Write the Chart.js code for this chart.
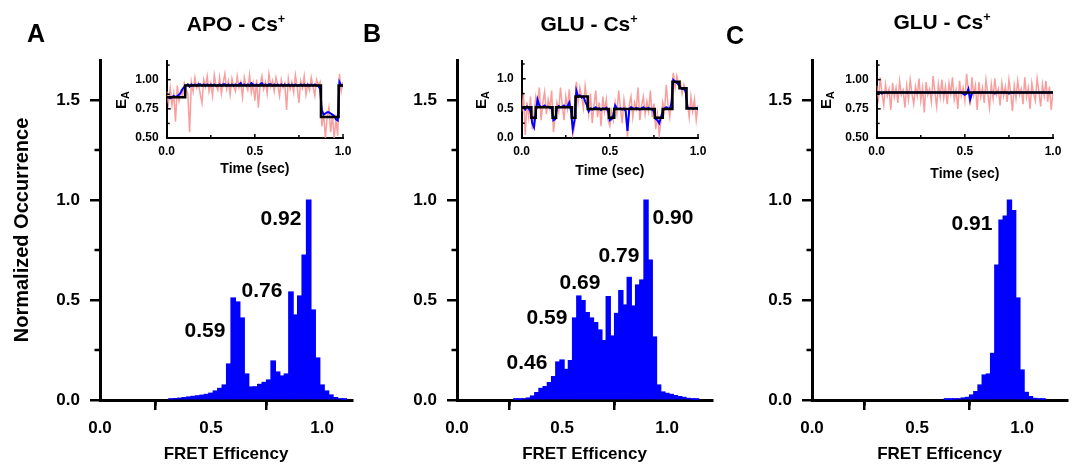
<!DOCTYPE html>
<html>
<head>
<meta charset="utf-8">
<script src="https://cdn.jsdelivr.net/npm/chart.js@4.4.1/dist/chart.umd.min.js"></script>
<style>
body { margin: 0; background: #fff; }
#fig { position: relative; width: 1072px; height: 466px; overflow: hidden;
       font-family: "Liberation Sans", Arial, sans-serif; font-weight: bold; color: #000; }
#fig canvas { position: absolute; }
.lbl { position: absolute; transform: translate(-50%, -50%); line-height: 1; white-space: nowrap; }
.panel { font-size: 25px; }
.title { font-size: 21px; }
.title sup { font-size: 0.6em; vertical-align: 0.6em; line-height: 0; }
.peak { font-size: 21px; }
.ea { font-size: 15px; transform: translate(-50%, -50%) rotate(-90deg); }
.ea span { font-size: 0.72em; vertical-align: -0.3em; line-height: 0; }
</style>
</head>
<body>
<div id="fig">
  <canvas id="histA" width="360" height="466" style="left:0px;top:0px"></canvas>
  <canvas id="histB" width="360" height="466" style="left:360px;top:0px"></canvas>
  <canvas id="histC" width="357" height="466" style="left:715px;top:0px"></canvas>
  <canvas id="traceA" width="275" height="145" style="left:100px;top:40px"></canvas>
  <canvas id="traceB" width="275" height="145" style="left:455px;top:40px"></canvas>
  <canvas id="traceC" width="262" height="145" style="left:810px;top:40px"></canvas>

  <div class="lbl panel" style="left:36px;top:33px">A</div>
  <div class="lbl panel" style="left:372px;top:33px">B</div>
  <div class="lbl panel" style="left:735px;top:35px">C</div>

  <div class="lbl title" style="left:236px;top:23px">APO - Cs<sup>+</sup></div>
  <div class="lbl title" style="left:589px;top:23px">GLU - Cs<sup>+</sup></div>
  <div class="lbl title" style="left:942px;top:21px">GLU - Cs<sup>+</sup></div>

  <div class="lbl ea" style="left:120px;top:100px">E<span>A</span></div>
  <div class="lbl ea" style="left:480px;top:100px">E<span>A</span></div>
  <div class="lbl ea" style="left:825px;top:100px">E<span>A</span></div>

  <div class="lbl peak" style="left:281px;top:217px">0.92</div>
  <div class="lbl peak" style="left:262px;top:289px">0.76</div>
  <div class="lbl peak" style="left:205px;top:329px">0.59</div>

  <div class="lbl peak" style="left:673px;top:216px">0.90</div>
  <div class="lbl peak" style="left:619px;top:254px">0.79</div>
  <div class="lbl peak" style="left:580px;top:281px">0.69</div>
  <div class="lbl peak" style="left:547px;top:316px">0.59</div>
  <div class="lbl peak" style="left:527px;top:361px">0.46</div>

  <div class="lbl peak" style="left:972px;top:222px">0.91</div>
</div>

<script>
// FRET histograms (bin centres, normalized occurrence)
var binsA = [0.32, 0.34, 0.36, 0.38, 0.40, 0.42, 0.44, 0.46, 0.48, 0.50,
             0.52, 0.54, 0.56, 0.58, 0.60, 0.62, 0.64, 0.66, 0.68, 0.70,
             0.72, 0.74, 0.76, 0.78, 0.80, 0.82, 0.84, 0.86, 0.88, 0.90,
             0.92, 0.94, 0.96, 0.98, 1.00, 1.02, 1.04, 1.06, 1.08, 1.10];
var countsA = [0.005, 0.007, 0.009, 0.012, 0.015, 0.018, 0.021, 0.024, 0.028, 0.034,
               0.045, 0.058, 0.075, 0.18, 0.51, 0.49, 0.41, 0.13, 0.065, 0.066,
               0.078, 0.088, 0.10, 0.195, 0.14, 0.12, 0.13, 0.54, 0.425, 0.52,
               0.725, 1.0, 0.45, 0.21, 0.075, 0.045, 0.025, 0.012, 0.006, 0.002];

var binsB = [0.28, 0.30, 0.32, 0.34, 0.36, 0.38, 0.40, 0.42, 0.44, 0.46, 0.48,
             0.50, 0.52, 0.54, 0.56, 0.58, 0.60, 0.62, 0.64, 0.66, 0.68, 0.70,
             0.72, 0.74, 0.76, 0.78, 0.80, 0.82, 0.84, 0.86, 0.88, 0.90, 0.92,
             0.94, 0.96, 0.98, 1.00, 1.02, 1.04, 1.06, 1.08, 1.10, 1.12, 1.14];
var countsB = [0.003, 0.004, 0.006, 0.01, 0.02, 0.037, 0.058, 0.067, 0.087, 0.117, 0.19,
               0.2, 0.153, 0.197, 0.41, 0.52, 0.497, 0.437, 0.41, 0.387, 0.35, 0.297,
               0.517, 0.32, 0.433, 0.547, 0.475, 0.613, 0.47, 0.575, 0.6, 1.0, 0.7,
               0.315, 0.075, 0.04, 0.033, 0.028, 0.022, 0.017, 0.013, 0.008, 0.004, 0.002];

var binsC = [0.64, 0.66, 0.68, 0.70, 0.72, 0.74, 0.76, 0.78, 0.80, 0.82, 0.84, 0.86,
             0.88, 0.90, 0.92, 0.94, 0.96, 0.98, 1.00, 1.02, 1.04, 1.06, 1.08, 1.10];
var countsC = [0.002, 0.003, 0.005, 0.006, 0.01, 0.013, 0.025, 0.042, 0.075, 0.125, 0.13, 0.233,
               0.675, 0.9, 0.92, 1.0, 0.947, 0.51, 0.15, 0.038, 0.017, 0.008, 0.005, 0.003];

var histTicksX = [0, 0.5, 1.0];
var histMinorX = [0.25, 0.75];
var histTicksY = [0, 0.5, 1.0, 1.5];
var histMinorY = [0.25, 0.75, 1.25];

// single-molecule traces, sampled every 10 ms over 1 s
var traceStep = 0.01;
var rawA = [0.90, 0.80, 0.93, 0.78, 0.88, 0.64, 0.95, 0.82, 0.90, 0.86, 0.97,
            0.92, 0.88, 0.55, 0.98, 0.90, 1.02, 0.93, 0.97, 0.88, 0.80,
            1.00, 0.94, 1.03, 0.90, 0.97, 0.86, 1.04, 0.95, 0.91, 1.02,
            0.88, 0.97, 1.05, 0.92, 0.99, 0.87, 1.01, 0.94, 0.90, 1.03,
            0.93, 0.98, 0.85, 1.02, 0.95, 0.91, 1.04, 0.89, 0.97, 0.82,
            1.00, 0.76, 0.96, 1.03, 0.92, 0.98, 0.88, 1.05, 0.94, 0.99,
            0.90, 1.02, 0.95, 0.86, 1.00, 0.93, 0.97, 0.74, 1.01, 0.92,
            0.98, 0.89, 1.04, 0.94, 0.80, 0.99, 0.93, 1.03, 0.87, 0.96,
            0.91, 1.02, 0.94, 0.86, 1.00, 0.95, 0.98,
            0.60, 0.72, 0.50, 0.68, 0.76, 0.55, 0.70, 0.50, 0.66, 0.52,
            1.05, 0.90, 0.98];
var smoothA = [0.85, 0.85, 0.84, 0.85, 0.86, 0.85, 0.86, 0.87, 0.89, 0.92, 0.94,
               0.95, 0.96, 0.94, 0.96, 0.95, 0.96, 0.95, 0.96, 0.96, 0.95,
               0.96, 0.95, 0.96, 0.95, 0.96, 0.95, 0.96, 0.95, 0.95, 0.96,
               0.95, 0.96, 0.96, 0.95, 0.96, 0.95, 0.96, 0.95, 0.96, 0.95,
               0.96, 0.97, 0.95, 0.96, 0.95, 0.96, 0.95, 0.97, 0.96, 0.95,
               0.96, 0.95, 0.96, 0.97, 0.95, 0.96, 0.95, 0.96, 0.96, 0.95,
               0.96, 0.95, 0.96, 0.95, 0.96, 0.95, 0.96, 0.95, 0.96, 0.95,
               0.96, 0.95, 0.96, 0.95, 0.95, 0.96, 0.95, 0.96, 0.95, 0.96,
               0.95, 0.96, 0.95, 0.96, 0.95, 0.95, 0.92,
               0.74, 0.70, 0.71, 0.72, 0.72, 0.71, 0.70, 0.69, 0.66, 0.65,
               0.98, 0.95, 0.95];
var fitTimeA = [0, 0.105, 0.875, 0.975, 1.0];
var fitLevelA = [0.85, 0.95, 0.68, 0.95, 0.95];

var rawB = [0.45, 0.75, 0.05, 0.60, 0.35, 0.70,
            0.15, 0.40, 0.70,
            0.55, 0.85, 0.30, 0.60, 0.78, 0.40, 0.65, 0.50, 0.80,
            0.10, 0.35,
            0.60, 0.45, 0.85, 0.55, 0.30, 0.70, 0.50, 0.82, 0.40,
            0.05, 0.20,
            0.95, 0.60, 0.85, 0.70, 0.50, 0.88, 0.65,
            0.40, 0.75, 0.25, 0.55, 0.80, 0.35, 0.60, 0.20, 0.70, 0.45, 0.65, 0.30,
            0.20, 0.45, 0.30,
            0.60, 0.40, 0.80, 0.50, 0.25, 0.65, 0.45, 0.02, 0.55, 0.70, 0.35, 0.60,
            0.50, 0.85, 0.30, 0.55, 0.70, 0.40, 0.62, 0.45, 0.80, 0.35, 0.58,
            0.15, 0.40, 0.05, 0.30, 0.60,
            0.45, 0.90, 0.55, 0.35, 0.70,
            1.10, 0.85, 1.05, 0.90,
            0.95, 0.75, 0.90, 0.80,
            0.60, 0.35, 0.70, 0.45, 0.65, 0.30, 0.55];
var smoothB = [0.50, 0.52, 0.48, 0.53, 0.50, 0.45,
               0.25, 0.18, 0.45,
               0.65, 0.55, 0.52, 0.53, 0.55, 0.52, 0.53, 0.51, 0.50,
               0.30, 0.32,
               0.50, 0.54, 0.52, 0.53, 0.55, 0.52, 0.54, 0.60, 0.45,
               0.15, 0.30,
               0.80, 0.70, 0.72, 0.68, 0.70, 0.62, 0.55,
               0.45, 0.50, 0.48, 0.50, 0.52, 0.49, 0.50, 0.47, 0.50, 0.49, 0.51, 0.45,
               0.30, 0.32, 0.40,
               0.55, 0.50, 0.49, 0.50, 0.48, 0.50, 0.45, 0.12, 0.48, 0.52, 0.50, 0.49,
               0.51, 0.50, 0.48, 0.50, 0.52, 0.49, 0.50, 0.51, 0.49, 0.48, 0.45,
               0.32, 0.30, 0.25, 0.35, 0.45,
               0.50, 0.52, 0.50, 0.49, 0.60,
               0.98, 0.95, 0.93, 0.90,
               0.85, 0.83, 0.84, 0.78,
               0.52, 0.50, 0.51, 0.49, 0.50, 0.51, 0.48];
var fitTimeB = [0, 0.055, 0.08, 0.175, 0.195, 0.285, 0.305, 0.375,
                0.495, 0.525, 0.755, 0.80, 0.855, 0.895, 0.935, 1.0];
var fitLevelB = [0.52, 0.34, 0.52, 0.34, 0.52, 0.34, 0.70, 0.49,
                 0.34, 0.49, 0.34, 0.49, 0.95, 0.84, 0.50, 0.50];

var rawC = [0.95, 0.84, 1.02, 0.88, 0.78, 0.96, 0.86, 0.92, 0.74, 0.97,
            0.85, 0.93, 0.80, 0.99, 0.87, 0.91, 0.76, 0.95, 0.83, 1.00,
            0.88, 0.79, 0.94, 0.86, 1.01, 0.82, 0.93, 0.72, 0.98, 0.87,
            0.92, 0.81, 1.03, 0.89, 0.77, 0.96, 0.85, 1.00, 0.84, 0.94,
            0.79, 0.97, 0.88, 1.02, 0.83, 0.91, 0.75, 0.99, 0.86, 0.93,
            0.82, 1.05, 0.90, 0.78, 1.02, 0.87, 0.95, 0.74, 0.98, 0.85,
            0.93, 0.80, 1.00, 0.88, 0.76, 0.96, 0.84, 1.01, 0.87, 0.92,
            0.78, 0.97, 0.86, 0.94, 0.81, 1.00, 0.89, 0.73, 0.95, 0.84,
            0.99, 0.87, 0.92, 0.79, 1.02, 0.85, 0.93, 0.75, 0.97, 0.88,
            0.82, 1.01, 0.90, 0.77, 0.96, 0.86, 0.99, 0.81, 0.94, 0.74, 0.90];
var smoothC = [0.89, 0.89, 0.89, 0.88, 0.89, 0.89, 0.89, 0.89, 0.89, 0.89,
               0.89, 0.89, 0.89, 0.89, 0.89, 0.89, 0.89, 0.89, 0.89, 0.89,
               0.89, 0.89, 0.89, 0.89, 0.89, 0.89, 0.89, 0.89, 0.89, 0.89,
               0.89, 0.89, 0.89, 0.89, 0.89, 0.89, 0.89, 0.89, 0.89, 0.89,
               0.89, 0.89, 0.89, 0.89, 0.89, 0.89, 0.89, 0.89, 0.89, 0.88,
               0.87, 0.88, 0.92, 0.83, 0.88, 0.89, 0.89, 0.89, 0.89, 0.89,
               0.89, 0.89, 0.89, 0.89, 0.89, 0.89, 0.89, 0.88, 0.89, 0.89,
               0.89, 0.89, 0.89, 0.89, 0.89, 0.88, 0.89, 0.89, 0.89, 0.89,
               0.89, 0.89, 0.89, 0.89, 0.89, 0.89, 0.89, 0.89, 0.89, 0.89,
               0.89, 0.89, 0.89, 0.89, 0.89, 0.89, 0.89, 0.89, 0.89, 0.89, 0.89];
var fitTimeC = [0, 1.0];
var fitLevelC = [0.89, 0.89];

var traceTicksX = [0, 0.5, 1.0];
var traceMinorX = [0.25, 0.75];

Chart.defaults.font.family = '"Liberation Sans", Arial, sans-serif';
Chart.defaults.font.weight = 'bold';
Chart.defaults.color = '#000';

// extra tick marks (minor ticks, and the inward ticks of the insets)
var tickMarks = {
	id: 'tickMarks',
	afterDraw: function(chart, args, opts) {
		var ctx = chart.ctx;
		var area = chart.chartArea;
		var dir = opts.inward ? -1 : 1;
		ctx.save();
		ctx.strokeStyle = '#000';
		ctx.lineWidth = opts.width;
		(opts.groups || []).forEach(function(g) {
			(g.x || []).forEach(function(v) {
				var px = chart.scales.x.getPixelForValue(v);
				ctx.beginPath();
				ctx.moveTo(px, area.bottom);
				ctx.lineTo(px, area.bottom + dir * g.len);
				ctx.stroke();
			});
			(g.y || []).forEach(function(v) {
				var py = chart.scales.y.getPixelForValue(v);
				ctx.beginPath();
				ctx.moveTo(area.left, py);
				ctx.lineTo(area.left - dir * g.len, py);
				ctx.stroke();
			});
		});
		ctx.restore();
	}
};

function setTicks(values) {
	return function(scale) {
		scale.ticks = values.map(function(v) { return { value: v }; });
	};
}

function drawHistogram(canvas_id, bins, counts, yAxisWidth, padRight, xMax, yTitle) {
	var points = bins.map(function(b, i) { return { x: b, y: counts[i] }; });
	new Chart(document.getElementById(canvas_id), {
		type: 'bar',
		data: {
			datasets: [{
				data: points,
				backgroundColor: '#0000ff',
				borderColor: '#0000ff',
				borderWidth: 0,
				inflateAmount: 0.6,
				barPercentage: 1.0,
				categoryPercentage: 1
			}]
		},
		options: {
			responsive: false,
			animation: false,
			layout: { padding: { top: 60, right: padRight, left: 0, bottom: 0 } },
			plugins: {
				legend: { display: false },
				tooltip: { enabled: false },
				tickMarks: { width: 2.5, inward: false, groups: [{ x: histMinorX, y: histMinorY, len: 5.5 }] }
			},
			scales: {
				x: {
					type: 'linear', min: 0, max: xMax, offset: false, z: 1,
					afterBuildTicks: setTicks(histTicksX),
					afterFit: function(s) { s.height = 66; },
					grid: { drawOnChartArea: false, color: '#000', lineWidth: 2.5, tickLength: 10 },
					border: { color: '#000', width: 3 },
					ticks: { font: { size: 17, weight: 'bold' }, padding: 8, maxRotation: 0, autoSkip: false,
					         callback: function(v) { return v.toFixed(1); } },
					title: { display: true, text: 'FRET Efficency', font: { size: 17, weight: 'bold' },
					         padding: { top: 0, bottom: 1 } }
				},
				y: {
					min: 0, max: 1.7, z: 1,
					afterBuildTicks: setTicks(histTicksY),
					afterFit: function(s) { s.width = yAxisWidth; },
					grid: { drawOnChartArea: false, color: '#000', lineWidth: 2.5, tickLength: 10 },
					border: { color: '#000', width: 3 },
					ticks: { font: { size: 17, weight: 'bold' }, padding: 10, autoSkip: false,
					         callback: function(v) { return v.toFixed(1); } },
					title: { display: !!yTitle, text: yTitle || '', font: { size: 20, weight: 'bold' },
					         padding: { top: 10, bottom: 0 } }
				}
			}
		},
		plugins: [tickMarks]
	});
} // drawHistogram

function drawTrace(canvas_id, raw, smooth, fitTime, fitLevel, yRange, yTicks, yMinor, yDigits, titlePad, padRight) {
	var rawPts = raw.map(function(v, i) { return { x: i * traceStep, y: v }; });
	var smoothPts = smooth.map(function(v, i) { return { x: i * traceStep, y: v }; });
	var fitPts = fitTime.map(function(t, i) { return { x: t, y: fitLevel[i] }; });
	new Chart(document.getElementById(canvas_id), {
		type: 'line',
		data: {
			datasets: [
				{ data: fitPts, stepped: true, borderColor: '#000', borderWidth: 2.5, pointRadius: 0 },
				{ data: smoothPts, borderColor: '#0000ff', borderWidth: 2, pointRadius: 0 },
				{ data: rawPts, borderColor: 'rgba(248,140,140,0.85)', borderWidth: 1.5, pointRadius: 0 }
			]
		},
		options: {
			responsive: false,
			animation: false,
			layout: { padding: { top: 21, right: padRight, left: 0, bottom: 0 } },
			plugins: {
				legend: { display: false },
				tooltip: { enabled: false },
				tickMarks: { width: 1.5, inward: true, groups: [
					{ x: traceTicksX, y: yTicks, len: 4 },
					{ x: traceMinorX, y: yMinor, len: 3 }
				] }
			},
			scales: {
				x: {
					type: 'linear', min: 0, max: 1.0,
					afterBuildTicks: setTicks(traceTicksX),
					afterFit: function(s) { s.height = 47; },
					grid: { display: false, drawTicks: false },
					border: { color: '#000', width: 2 },
					ticks: { font: { size: 12, weight: 'bold' }, padding: 6, maxRotation: 0, autoSkip: false,
					         callback: function(v) { return v.toFixed(1); } },
					title: { display: true, text: 'Time (sec)', font: { size: 14, weight: 'bold' },
					         padding: { top: 0, bottom: titlePad } }
				},
				y: {
					min: yRange[0], max: yRange[1],
					afterBuildTicks: setTicks(yTicks),
					afterFit: function(s) { s.width = 66.7; },
					grid: { display: false, drawTicks: false },
					border: { color: '#000', width: 2 },
					ticks: { font: { size: 12, weight: 'bold' }, padding: 8, autoSkip: false,
					         callback: function(v) { return v.toFixed(yDigits); } }
				}
			}
		},
		plugins: [tickMarks]
	});
} // drawTrace

drawHistogram('histA', binsA, countsA, 100, 8, 1.135, 'Normalized Occurrence');
drawHistogram('histB', binsB, countsB, 97, 8, 1.214, null);
drawHistogram('histC', binsC, countsC, 97, 5, 1.214, null);

drawTrace('traceA', rawA, smoothA, fitTimeA, fitLevelA, [0.5, 1.16], [0.5, 0.75, 1.0], [0.625, 0.875, 1.125], 2, 7.6, 32);
drawTrace('traceB', rawB, smoothB, fitTimeB, fitLevelB, [0, 1.3], [0, 0.5, 1.0], [0.25, 0.75, 1.25], 1, 5.1, 32);
drawTrace('traceC', rawC, smoothC, fitTimeC, fitLevelC, [0.5, 1.16], [0.5, 0.75, 1.0], [0.625, 0.875, 1.125], 2, 2.6, 19);
</script>
</body>
</html>
